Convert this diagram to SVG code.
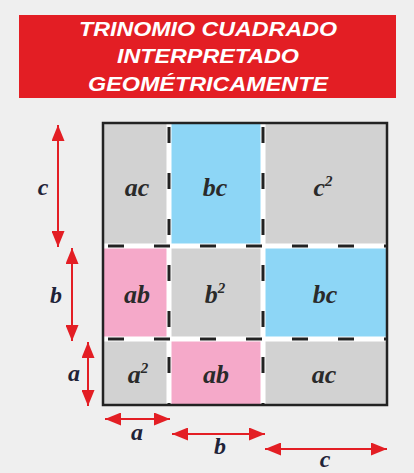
<svg xmlns="http://www.w3.org/2000/svg" width="414" height="473" viewBox="0 0 414 473">
<style>
.title{font-family:"Liberation Sans",Arial,sans-serif;font-weight:bold;font-style:italic;font-size:21px;fill:#fff;text-anchor:middle}
.lbl{font-family:"Liberation Serif","Times New Roman",serif;font-weight:bold;font-style:italic;font-size:26px;fill:#2a2a2a;text-anchor:middle}
.ax{font-family:"Liberation Serif","Times New Roman",serif;font-weight:bold;font-style:italic;font-size:24px;fill:#1f2338;text-anchor:middle}
.gray{fill:#d2d2d2}.blue{fill:#8dd6f6}.pink{fill:#f5a9c9}
.sep{stroke:#fff;stroke-width:5;fill:none}
.dash{stroke:#222;stroke-width:3;stroke-dasharray:16 30;fill:none}
.arr{stroke:#e31e24;stroke-width:2;fill:none;marker-start:url(#ah);marker-end:url(#ah)}
.sup{font-size:15px}
</style>
<defs>
<marker id="ah" markerUnits="userSpaceOnUse" markerWidth="16" markerHeight="13" refX="16" refY="6.5" orient="auto-start-reverse">
<path d="M0,0 L16,6.5 L0,13 z" fill="#e31e24"/>
</marker>
</defs>
<rect width="414" height="473" fill="#efefef"/>
<g id="title">
<rect x="19" y="15" width="377" height="83" fill="#e31e24"/>
<text class="title" x="208" y="36" textLength="258" lengthAdjust="spacingAndGlyphs">TRINOMIO CUADRADO</text>
<text class="title" x="208" y="63" textLength="182" lengthAdjust="spacingAndGlyphs">INTERPRETADO</text>
<text class="title" x="208" y="91" textLength="240" lengthAdjust="spacingAndGlyphs">GEOMÉTRICAMENTE</text>
</g>
<g id="cell-ac-top"><rect class="gray" x="103" y="123" width="66" height="123"/><text class="lbl" x="137" y="196">ac</text></g>
<g id="cell-bc-top"><rect class="blue" x="169" y="123" width="94" height="123"/><text class="lbl" x="215" y="196">bc</text></g>
<g id="cell-c2"><rect class="gray" x="263" y="123" width="124" height="123"/><text class="lbl" x="323" y="196">c<tspan class="sup" dy="-10">2</tspan></text></g>
<g id="cell-ab-mid"><rect class="pink" x="103" y="246" width="66" height="93"/><text class="lbl" x="137" y="303">ab</text></g>
<g id="cell-b2"><rect class="gray" x="169" y="246" width="94" height="93"/><text class="lbl" x="215" y="303">b<tspan class="sup" dy="-10">2</tspan></text></g>
<g id="cell-bc-mid"><rect class="blue" x="263" y="246" width="124" height="93"/><text class="lbl" x="325" y="303">bc</text></g>
<g id="cell-a2"><rect class="gray" x="103" y="339" width="66" height="66"/><text class="lbl" x="138" y="383">a<tspan class="sup" dy="-10">2</tspan></text></g>
<g id="cell-ab-bot"><rect class="pink" x="169" y="339" width="94" height="66"/><text class="lbl" x="216" y="383">ab</text></g>
<g id="cell-ac-bot"><rect class="gray" x="263" y="339" width="124" height="66"/><text class="lbl" x="324" y="383">ac</text></g>
<g id="dividers">
<path class="sep" d="M169,123V405M263,123V405M103,246H387M103,339H387"/>
<path class="dash" d="M169,127V405M263,127V405M108,246H387M108,339H387"/>
<rect x="103" y="123" width="284" height="282" fill="none" stroke="#222" stroke-width="2.5"/>
</g>
<g id="connectors">
<line class="arr" x1="58" y1="125" x2="58" y2="247"/>
<line class="arr" x1="72" y1="248" x2="72" y2="341"/>
<line class="arr" x1="88" y1="342" x2="88" y2="406"/>
<line class="arr" x1="105" y1="419" x2="170" y2="419"/>
<line class="arr" x1="172" y1="434" x2="265" y2="434"/>
<line class="arr" x1="265" y1="449" x2="387" y2="449"/>
</g>
<g id="axis-labels">
<text class="ax" x="43" y="195">c</text>
<text class="ax" x="56" y="303">b</text>
<text class="ax" x="74" y="381">a</text>
<text class="ax" x="137" y="440">a</text>
<text class="ax" x="220" y="454">b</text>
<text class="ax" x="325" y="467">c</text>
</g>
</svg>
